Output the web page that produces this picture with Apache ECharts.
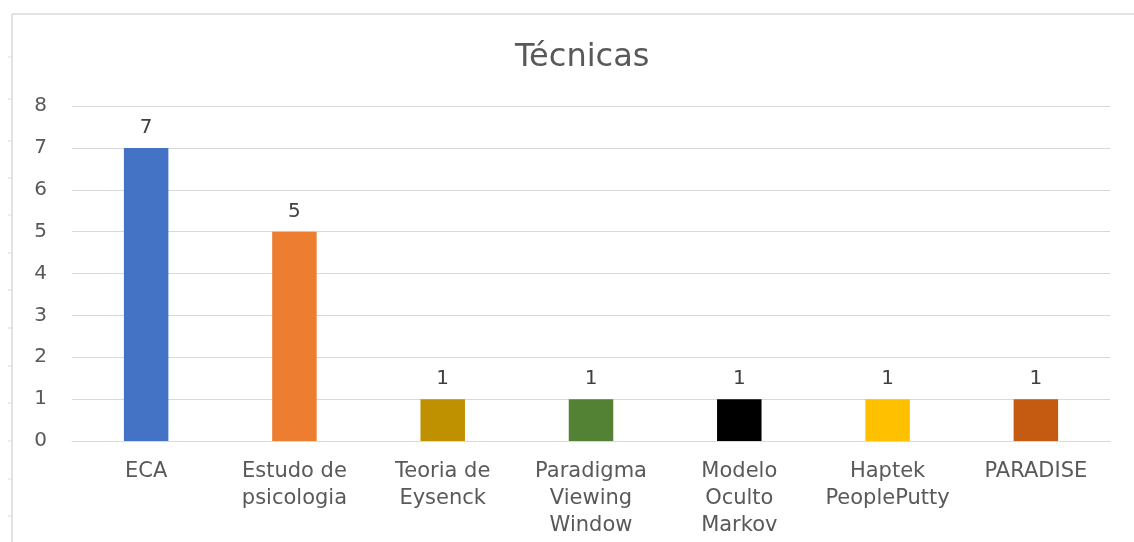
<!DOCTYPE html>
<html>
<head>
<meta charset="utf-8">
<script src="https://cdn.jsdelivr.net/npm/echarts@6/dist/echarts.min.js"></script>
<style>
html,body{margin:0;padding:0;background:#fff;}
#chart{width:1134px;height:542px;}
</style>
</head>
<body>
<div id="chart"></div>
<script>
const title = 'Técnicas';
const categories = ['ECA', 'Estudo de\npsicologia', 'Teoria de\nEysenck', 'Paradigma\nViewing\nWindow', 'Modelo\nOculto\nMarkov', 'Haptek\nPeoplePutty', 'PARADISE'];
const values = [7, 5, 1, 1, 1, 1, 1];
const barColors = ['#4472C4', '#ED7D31', '#BF9000', '#548235', '#000000', '#FFC000', '#C55A11'];
const yTicks = { min: 0, max: 8, interval: 1 };

const FONT = 'DejaVu Sans';
const rulerY = [57, 99, 141, 178, 215, 253, 290, 328, 366, 403, 441, 479, 516];
const graphics = [
  { type: 'line', shape: { x1: 12, y1: 14, x2: 1134, y2: 14 }, style: { stroke: '#d9d9d9', lineWidth: 1.5 } },
  { type: 'line', shape: { x1: 12, y1: 14, x2: 12, y2: 542 }, style: { stroke: '#d9d9d9', lineWidth: 1.5 } }
];
rulerY.forEach(y => graphics.push({ type: 'line', shape: { x1: 8, y1: y, x2: 12, y2: y }, style: { stroke: '#d9d9d9', lineWidth: 1 } }));

const chart = echarts.init(document.getElementById('chart'));
chart.setOption({
  animation: false,
  textStyle: { fontFamily: FONT },
  title: {
    text: title, left: 510, top: 37,
    textStyle: { fontFamily: FONT, fontSize: 32, fontWeight: 'normal', color: '#595959' }
  },
  graphic: graphics,
  grid: { left: 72, right: 24, top: 106, bottom: 101 },
  xAxis: {
    type: 'category', data: categories,
    axisLine: { lineStyle: { color: '#d9d9d9' } },
    axisTick: { show: false },
    axisLabel: { color: '#595959', fontSize: 21, lineHeight: 27, margin: 17, interval: 0, fontFamily: FONT }
  },
  yAxis: {
    type: 'value', min: yTicks.min, max: yTicks.max, interval: yTicks.interval,
    axisLine: { show: false }, axisTick: { show: false },
    splitLine: { lineStyle: { color: '#d9d9d9' } },
    axisLabel: { color: '#595959', fontSize: 20, margin: 25, fontFamily: FONT }
  },
  series: [{
    type: 'bar', barWidth: '30%',
    data: values.map((v, i) => ({ value: v, itemStyle: { color: barColors[i] } })),
    label: { show: true, position: 'top', distance: 10, color: '#404040', fontSize: 20, fontFamily: FONT }
  }]
});
</script>
</body>
</html>
